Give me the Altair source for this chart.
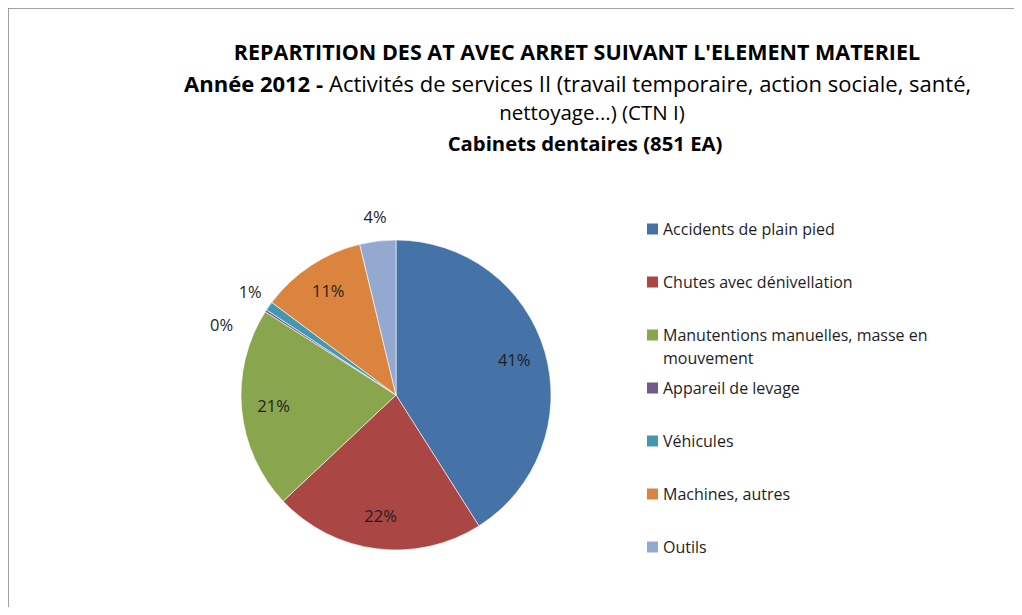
import altair as alt
import pandas as pd

FONT = "Open Sans"

# ---- data ----
categories = [
    "Accidents de plain pied",
    "Chutes avec dénivellation",
    "Manutentions manuelles, masse en mouvement",
    "Appareil de levage",
    "Véhicules",
    "Machines, autres",
    "Outils",
]
legend_text = [
    "Accidents de plain pied",
    "Chutes avec dénivellation",
    "Manutentions manuelles, masse en\nmouvement",
    "Appareil de levage",
    "Véhicules",
    "Machines, autres",
    "Outils",
]
counts = [349, 187, 179, 2, 8, 94, 32]
pct_labels = ["41%", "22%", "21%", "0%", "1%", "11%", "4%"]
label_pos = ["in", "in", "in", "shift", "out", "in", "out"]
colors = ["#4572A7", "#AA4643", "#89A54E", "#71588F", "#4198AF", "#DB843D", "#93A9CF"]

title1 = "REPARTITION DES AT AVEC ARRET SUIVANT L'ELEMENT MATERIEL"
title2_bold = "Année 2012  -"
title2_rest = "Activités de services II (travail temporaire, action sociale, santé,"
title3 = "nettoyage...) (CTN I)"
title4 = "Cabinets dentaires (851 EA)"

df = pd.DataFrame({
    "cat": categories,
    "legend": legend_text,
    "n": counts,
    "label": pct_labels,
    "pos": label_pos,
    "idx": list(range(len(categories))),
})

W, H = 1006, 599
CX, CY, R = 388, 387, 155

color_scale = alt.Scale(domain=categories, range=colors)

base = alt.Chart(df).encode(
    theta=alt.Theta("n:Q", stack=True),
    order=alt.Order("idx:Q"),
)

pie = base.mark_arc(stroke="#ffffff", strokeWidth=0.6).encode(
    color=alt.Color("cat:N", scale=color_scale, legend=None),
    x=alt.value(CX), y=alt.value(CY), radius=alt.value(R),
)

LAB = dict(font=FONT, fontSize=16.5, color="#1e1e1e")
lab_in = base.mark_text(**LAB).encode(
    text=alt.condition("datum.pos == 'in'", alt.Text("label:N"), alt.value("")),
    x=alt.value(CX), y=alt.value(CY), radius=alt.value(123),
)
lab_out = base.mark_text(**LAB).encode(
    text=alt.condition("datum.pos == 'out'", alt.Text("label:N"), alt.value("")),
    x=alt.value(CX), y=alt.value(CY), radius=alt.value(178),
)
lab_shift = base.mark_text(dx=-19, dy=31, **LAB).encode(
    text=alt.condition("datum.pos == 'shift'", alt.Text("label:N"), alt.value("")),
    x=alt.value(CX), y=alt.value(CY), radius=alt.value(185),
)

ypos = alt.Y("cat:N", sort=categories, axis=None,
             scale=alt.Scale(type="point", domain=categories, range=[221, 539], padding=0))

leg_sq = alt.Chart(df).mark_square(size=121, opacity=1).encode(
    x=alt.value(644.5), y=ypos,
    color=alt.Color("cat:N", scale=color_scale, legend=None),
)
leg_txt = alt.Chart(df).mark_text(font=FONT, fontSize=16, color="#1e1e1e", align="left",
                                  baseline="alphabetic", dy=5.5, lineBreak="\n",
                                  lineHeight=23).encode(
    x=alt.value(655), y=ypos, text="legend:N",
)

one = pd.DataFrame({"a": [0]})

def title_text(txt, x, y, bold, align="center", size=20):
    return alt.Chart(one).mark_text(
        text=txt, font=FONT, fontSize=size, fontWeight="bold" if bold else "normal",
        color="#000000", align=align, baseline="middle",
    ).encode(x=alt.value(x), y=alt.value(y))

t1 = title_text(title1, 569, 46, True, size=21.5)
t2a = title_text(title2_bold, 315, 77, True, align="right", size=22)
t2b = title_text(title2_rest, 321, 77, False, align="left", size=22)
t3 = title_text(title3, 584, 106, False, size=20.5)
t4 = title_text(title4, 577, 137, True, size=20.3)

border_top = alt.Chart(one).mark_rule(color="#8c8c8c", strokeWidth=1.5).encode(
    x=alt.value(0), x2=alt.value(W), y=alt.value(0))
border_left = alt.Chart(one).mark_rule(color="#8c8c8c", strokeWidth=1.5).encode(
    x=alt.value(0), y=alt.value(0), y2=alt.value(H))

chart = alt.layer(
    pie, lab_in, lab_out, lab_shift, leg_sq, leg_txt,
    t1, t2a, t2b, t3, t4, border_top, border_left,
).resolve_scale(y="independent").properties(
    width=W, height=H, padding=0, autosize=alt.AutoSizeParams(type="none"),
).configure_view(stroke=None).configure(background="#ffffff")

chart.save("out.html", embed_options={"renderer": "svg", "actions": False})
